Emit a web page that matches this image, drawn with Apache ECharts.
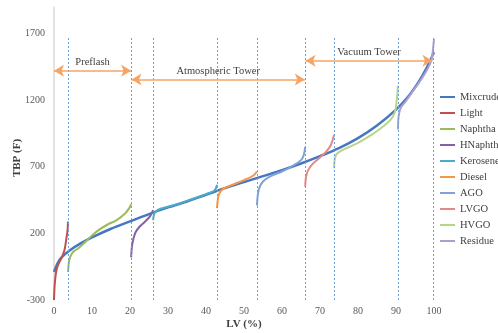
<!DOCTYPE html>
<html>
<head>
<meta charset="utf-8">
<script src="https://cdn.jsdelivr.net/npm/echarts@6/dist/echarts.min.js"></script>
<style>html,body{margin:0;padding:0;background:#fff}#c{width:498px;height:333px}</style>
</head>
<body>
<div id="c"></div>
<script>
// ---- data (LV %, TBP F) ----
const seriesNames = ['Mixcrude','Light','Naphtha','HNaphtha','Kerosene','Diesel','AGO','LVGO','HVGO','Residue'];
const mixcrude = [[0,-90],[1,-20],[2,20],[4,70],[7,125],[10,170],[15,235],[20,290],[25,345],[30,395],[35,440],[40,490],[45,540],[50,585],[55,630],[60,675],[65,725],[70,780],[75,840],[80,915],[85,1010],[90,1130],[93,1220],[96,1340],[98,1440],[100,1560]];
const light = [[0,-300],[0.15,-200],[0.4,-120],[0.8,-60],[1.5,-10],[2.2,30],[2.8,80],[3.3,170],[3.55,220],[3.7,290]];
const naphtha = [[3.7,-90],[3.9,-20],[4.3,25],[5,60],[6.5,90],[8,130],[10,185],[12,230],[14,265],[16.5,300],[18.7,350],[19.8,390],[20.3,420]];
const hnaphtha = [[20.3,20],[20.5,100],[20.9,160],[21.5,210],[22.5,250],[24,290],[25.3,330],[26.1,375]];
const kerosene = [[26.1,300],[26.3,340],[26.8,365],[28,385],[30,400],[33,425],[36,455],[39,485],[41,505],[42.3,525],[42.9,565]];
const diesel = [[42.9,390],[43.1,450],[43.5,500],[44.5,535],[47,565],[50,600],[52.5,635],[53.4,665]];
const ago = [[53.4,410],[53.6,480],[54,540],[55,590],[57,630],[60,665],[63,710],[65.3,760],[66.1,850]];
const lvgo = [[66.1,550],[66.3,620],[66.8,670],[68,720],[70,770],[71.5,810],[72.8,860],[73.7,940]];
const hvgo = [[73.7,690],[73.9,760],[74.5,800],[77,840],[80,880],[83,930],[86,990],[88.5,1050],[89.7,1110],[90.2,1200],[90.5,1310]];
const residue = [[90.5,980],[90.7,1080],[91.2,1140],[92.5,1190],[94,1250],[96,1330],[98,1420],[99.3,1500],[99.8,1600],[100,1660]];
const cutPoints = [3.7, 20.3, 26.1, 42.9, 53.4, 66.1, 73.7, 90.5, 99.7];
const cutLineTop = 1675;
const sections = [
  {name:'Preflash', from:0, to:20.3, tbp:1422},
  {name:'Atmospheric Tower', from:20.4, to:66.0, tbp:1356},
  {name:'Vacuum Tower', from:66.2, to:99.6, tbp:1497}
];
const seriesData = [mixcrude, light, naphtha, hnaphtha, kerosene, diesel, ago, lvgo, hvgo, residue];
const colors = ['#4677c0','#c0504d','#9bbb59','#8064a2','#4bacc6','#f79646','#7ea3d8','#e08b8a','#b8d48c','#ad9fcc'];

const font = 'Liberation Serif';
const chart = echarts.init(document.getElementById('c'), null, {renderer:'canvas'});

const series = seriesNames.map((n,i) => ({
  name: n, type: 'line', data: seriesData[i], showSymbol: false, symbol: 'none',
  smooth: 0.35, z: i === 0 ? 3 : 4,
  lineStyle: {width: i === 0 ? 2.5 : 2, color: colors[i]},
  itemStyle: {color: colors[i]}
}));

series.push({
  name: 'guides', type: 'line', data: [], silent: true,
  markLine: {
    silent: true, symbol: ['none','none'], animation: false,
    lineStyle: {color: '#6a9fd8', type: [2,2], width: 1},
    label: {show: false},
    data: cutPoints.map(x => [{coord:[x,-300]},{coord:[x,cutLineTop]}])
  }
});
series.push({
  name: 'sections', type: 'line', data: [], silent: true,
  markLine: {
    silent: true, symbol: ['arrow','arrow'], symbolSize: [9, 10], animation: false,
    lineStyle: {color: '#f5a466', type: 'solid', width: 1.5},
    label: {show: true, position: 'middle', distance: 3, formatter: p => p.name,
      fontFamily: font, fontSize: 10.5, color: '#404040'},
    data: sections.map(s => [{name: s.name, coord:[s.from, s.tbp]},{coord:[s.to, s.tbp]}])
  }
});

chart.setOption({
  animation: false,
  grid: {left: 54, right: 64, top: 7, bottom: 33, containLabel: false, outerBoundsMode: 'none'},
  legend: {
    data: seriesNames, orient: 'vertical', left: 440, top: 90, padding: 0,
    icon: 'rect', itemWidth: 15, itemHeight: 2, itemGap: 2,
    textStyle: {fontFamily: font, fontSize: 10.5, color: '#404040', lineHeight: 14}
  },
  xAxis: {
    type: 'value', min: 0, max: 100, interval: 10,
    name: 'LV (%)', nameLocation: 'middle', nameGap: 19, nameMoveOverlap: false,
    nameTextStyle: {fontFamily: font, fontSize: 11, fontWeight: 'bold', color: '#404040'},
    axisLine: {show: false}, axisTick: {show: false}, splitLine: {show: false},
    axisLabel: {fontFamily: font, fontSize: 10, color: '#595959', margin: 6, formatter: v => String(v)}
  },
  yAxis: {
    type: 'value', min: -300, max: 1900, interval: 500,
    name: 'TBP (F)', nameLocation: 'middle', nameGap: 31, nameMoveOverlap: false,
    nameTextStyle: {fontFamily: font, fontSize: 11, fontWeight: 'bold', color: '#404040', padding: [0, 9, 0, 0]},
    axisLine: {show: true, lineStyle: {color: '#d9d9d9', width: 1.5}},
    axisTick: {show: false}, splitLine: {show: false},
    axisLabel: {fontFamily: font, fontSize: 10, color: '#595959', margin: 9, showMaxLabel: false, formatter: v => String(v)}
  },
  series: series
});
</script>
</body>
</html>
